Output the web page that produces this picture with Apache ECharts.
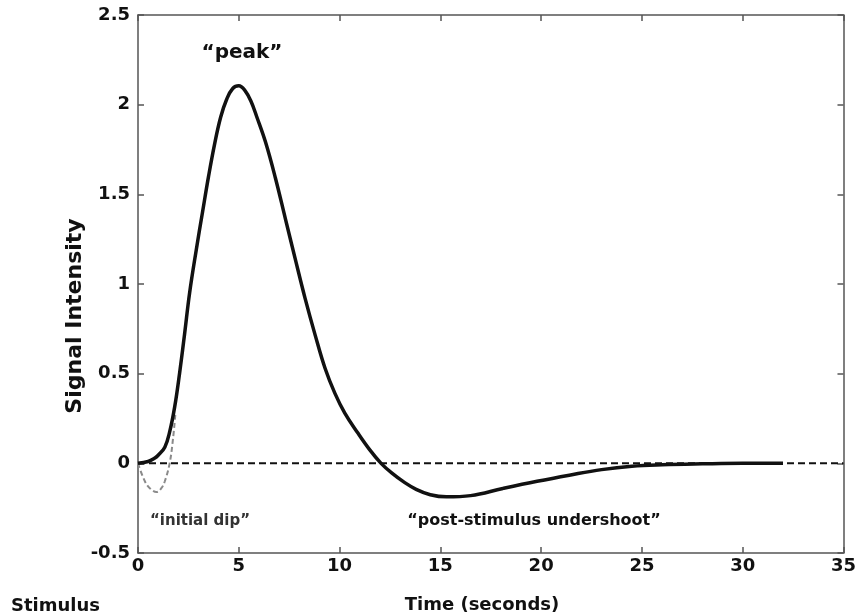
<!DOCTYPE html>
<html>
<head>
<meta charset="utf-8">
<script src="https://cdn.jsdelivr.net/npm/echarts@6/dist/echarts.min.js"></script>
<style>html,body{margin:0;padding:0;background:#fff}#c{width:859px;height:616px}</style>
</head>
<body>
<div id="c"></div>
<script>
// Main hemodynamic response (solid)
const hrfTime = [0, 0.5, 0.84, 1.0, 1.33, 1.57, 1.82, 2.06, 2.31, 2.56, 2.89, 3.2, 3.5, 3.8, 4.1, 4.4, 4.7, 5.0, 5.3, 5.6, 5.9, 6.33, 6.82, 7.31, 7.8, 8.29, 8.79, 9.28, 9.77, 10.26, 10.9, 11.5, 12.06, 12.6, 13.2, 13.8, 14.5, 15.3, 16.5, 18.1, 19.8, 21.4, 23.0, 24.5, 26, 28, 30, 32];
const hrfValue = [0, 0.01, 0.03, 0.045, 0.09, 0.175, 0.315, 0.5, 0.72, 0.95, 1.19, 1.4, 1.6, 1.78, 1.93, 2.03, 2.09, 2.105, 2.08, 2.02, 1.93, 1.79, 1.59, 1.365, 1.14, 0.92, 0.715, 0.53, 0.39, 0.28, 0.17, 0.075, 0, -0.055, -0.105, -0.145, -0.175, -0.187, -0.18, -0.14, -0.1, -0.066, -0.035, -0.016, -0.008, -0.003, 0, 0];
// Initial dip (dashed grey)
const dipTime = [0, 0.34, 0.6, 0.92, 1.15, 1.33, 1.57, 1.74, 1.85];
const dipValue = [0, -0.1, -0.14, -0.16, -0.14, -0.1, 0, 0.14, 0.27];
// Baseline
const baseTime = [0, 35];
const baseValue = [0, 0];
// Axis ticks
const xTicks = [0, 5, 10, 15, 20, 25, 30, 35];
const yTicks = [-0.5, 0, 0.5, 1, 1.5, 2, 2.5];

const zip = (a, b) => a.map((v, i) => [v, b[i]]);
const font = '"DejaVu Sans", Verdana, sans-serif';
const axisColor = '#555';
const lineStyle = {color: axisColor, width: 1.5};
const tick = {show: true, inside: true, length: 6, lineStyle: lineStyle};

const chart = echarts.init(document.getElementById('c'));
chart.setOption({
  backgroundColor: '#fff',
  animation: false,
  grid: {left: 138, right: 9, top: 15, bottom: 63},
  xAxis: [{
    type: 'value', min: xTicks[0], max: xTicks[xTicks.length - 1], interval: 5,
    axisLine: {show: true, onZero: false, lineStyle: lineStyle},
    axisTick: tick,
    axisLabel: {color: '#111', fontSize: 18, fontWeight: 'bold', fontFamily: font, margin: 4},
    splitLine: {show: false}
  }, {
    type: 'value', position: 'top', min: xTicks[0], max: xTicks[xTicks.length - 1], interval: 5,
    axisLine: {show: true, onZero: false, lineStyle: lineStyle},
    axisTick: tick,
    axisLabel: {show: false}, splitLine: {show: false}
  }],
  yAxis: [{
    type: 'value', min: yTicks[0], max: yTicks[yTicks.length - 1], interval: 0.5,
    axisLine: {show: true, onZero: false, lineStyle: lineStyle},
    axisTick: tick,
    axisLabel: {color: '#111', fontSize: 18, fontWeight: 'bold', fontFamily: font, margin: 8},
    splitLine: {show: false}
  }, {
    type: 'value', position: 'right', min: yTicks[0], max: yTicks[yTicks.length - 1], interval: 0.5,
    axisLine: {show: true, onZero: false, lineStyle: lineStyle},
    axisTick: tick,
    axisLabel: {show: false}, splitLine: {show: false}
  }],
  series: [{
    type: 'line', data: zip(baseTime, baseValue), symbol: 'none', z: 1,
    lineStyle: {color: '#111', width: 2, type: [7, 4]}
  }, {
    type: 'line', data: zip(dipTime, dipValue), symbol: 'none', smooth: 0.4, z: 2,
    lineStyle: {color: '#8a8a8a', width: 2, type: [5, 3]}
  }, {
    type: 'line', data: zip(hrfTime, hrfValue), symbol: 'none', smooth: 0.4, z: 3,
    lineStyle: {color: '#111', width: 3.5}
  }],
  graphic: [
    {type: 'text', x: 242, y: 53, style: {text: '\u201cpeak\u201d', font: 'bold 20px ' + font, fill: '#111', textAlign: 'center', textVerticalAlign: 'middle'}},
    {type: 'text', x: 200, y: 521, style: {text: '\u201cinitial dip\u201d', font: 'bold 15px ' + font, fill: '#333', textAlign: 'center', textVerticalAlign: 'middle'}},
    {type: 'text', x: 534, y: 521, style: {text: '\u201cpost-stimulus undershoot\u201d', font: 'bold 16px ' + font, fill: '#111', textAlign: 'center', textVerticalAlign: 'middle'}},
    {type: 'text', x: 11, y: 606, style: {text: 'Stimulus', font: 'bold 18px ' + font, fill: '#111', textAlign: 'left', textVerticalAlign: 'middle'}},
    {type: 'text', x: 482, y: 605, style: {text: 'Time (seconds)', font: 'bold 18px ' + font, fill: '#111', textAlign: 'center', textVerticalAlign: 'middle'}},
    {type: 'text', x: 75, y: 316, rotation: Math.PI / 2, style: {text: 'Signal Intensity', font: 'bold 22px ' + font, fill: '#111', textAlign: 'center', textVerticalAlign: 'middle'}}
  ]
});
</script>
</body>
</html>
